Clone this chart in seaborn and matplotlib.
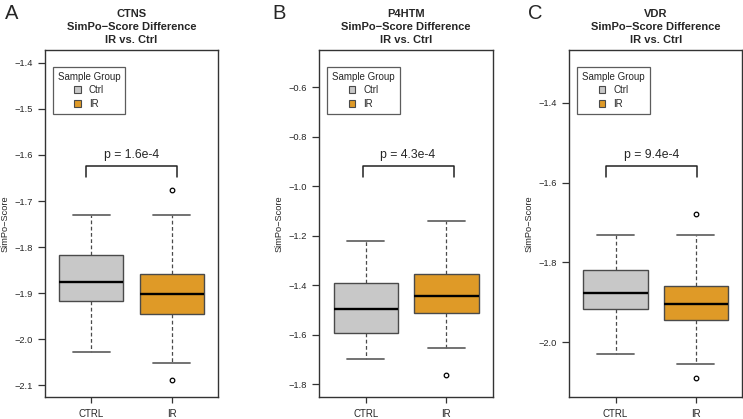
import numpy as np
import pandas as pd
import matplotlib
matplotlib.use("Agg")
import matplotlib.pyplot as plt
import seaborn as sns
from matplotlib.patches import Patch

# ---------------- data ----------------
genes = ["CTNS", "P4HTM", "VDR"]
panel_letters = ["A", "B", "C"]
groups = ["CTRL", "IR"]
legend_labels = ["Ctrl", "IR"]
p_labels = ["p = 1.6e-4", "p = 4.3e-4", "p = 9.4e-4"]

ctns_ctrl = [-2.028, -1.970, -1.917, -1.900, -1.876, -1.850, -1.817, -1.780, -1.730]
ctns_ir = [-2.088, -2.052, -1.945, -1.920, -1.902, -1.880, -1.858, -1.730, -1.677]
p4htm_ctrl = [-1.699, -1.650, -1.593, -1.550, -1.497, -1.440, -1.393, -1.300, -1.223]
p4htm_ir = [-1.764, -1.656, -1.514, -1.480, -1.445, -1.400, -1.353, -1.250, -1.139]
vdr_ctrl = [-2.029, -1.970, -1.9175, -1.900, -1.8775, -1.850, -1.819, -1.780, -1.730]
vdr_ir = [-2.089, -2.054, -1.945, -1.920, -1.904, -1.880, -1.858, -1.730, -1.6775]

ctrl_values = [ctns_ctrl, p4htm_ctrl, vdr_ctrl]
ir_values = [ctns_ir, p4htm_ir, vdr_ir]

y_ticks = [
    [-2.1, -2.0, -1.9, -1.8, -1.7, -1.6, -1.5, -1.4],
    [-1.8, -1.6, -1.4, -1.2, -1.0, -0.8, -0.6],
    [-2.0, -1.8, -1.6, -1.4],
]
y_limits = [(-2.125, -1.372), (-1.851, -0.449), (-2.136, -1.268)]
bracket_x = [(-0.06, 1.06), (-0.04, 1.09), (-0.12, 1.01)]
bracket_y = [(-1.647, -1.623), (-0.963, -0.918), (-1.586, -1.5585)]
p_text_y = [-1.600, -0.874, -1.532]

# ---------------- styling ----------------
colors = {"CTRL": "#C8C8C8", "IR": "#DF9A27"}
edge = "#4A4A4A"
cap_color = "#676767"

sns.set_style("white")
plt.rcParams["font.family"] = ["Liberation Sans", "DejaVu Sans"]

fig = plt.figure(figsize=(7.43, 4.19), dpi=100)
W, H = 743.0, 419.0
axes_px = [(44.7, 218.3), (319.0, 493.0), (569.0, 742.3)]
top_px, bottom_px = 50.0, 396.7
letter_x_px = [5, 272, 528]

for i in range(3):
    l, r = axes_px[i]
    ax = fig.add_axes([l / W, (H - bottom_px) / H, (r - l) / W, (bottom_px - top_px) / H])
    df = pd.DataFrame({
        "group": ["CTRL"] * len(ctrl_values[i]) + ["IR"] * len(ir_values[i]),
        "score": ctrl_values[i] + ir_values[i],
    })
    sns.boxplot(
        data=df, x="group", y="score", hue="group", order=groups, hue_order=groups,
        palette=colors, saturation=1, width=0.8, whis=1.5, legend=False, ax=ax,
        linewidth=1.0,
        boxprops=dict(edgecolor=edge, linewidth=1.0),
        whiskerprops=dict(color=edge, linestyle=(0, (3, 2)), linewidth=0.9),
        capprops=dict(color=cap_color, linewidth=1.3),
        medianprops=dict(color="black", linewidth=1.7),
        flierprops=dict(marker="o", markerfacecolor="none", markeredgecolor="black",
                        markersize=3.3, markeredgewidth=0.9),
    )
    # R-style caps: half of the box width
    for ln in list(ax.lines):
        xd = np.asarray(ln.get_xdata(), dtype=float)
        yd = np.asarray(ln.get_ydata(), dtype=float)
        if len(xd) == 2 and np.isclose(yd[0], yd[1]):
            span = abs(xd[1] - xd[0])
            if 0.05 < span < 0.6:
                c = xd.mean()
                ln.set_xdata([c - 0.23, c + 0.23])

    ax.set_xlim(-0.58, 1.58)
    ax.set_ylim(*y_limits[i])
    ax.set_yticks(y_ticks[i])
    ax.set_yticklabels([f"{t:.1f}".replace("-", "\u2212") for t in y_ticks[i]])
    ax.set_xticks([0, 1])
    ax.set_xticklabels(groups)
    ax.set_xlabel("")
    ax.set_ylabel("SimPo\u2212Score", fontsize=6.7)
    ax.yaxis.set_label_coords(-0.205, 0.5)
    ax.tick_params(axis="y", which="both", left=True, length=5, width=0.9,
                   color="#333333", labelsize=6.7, pad=3.5, direction="out")
    ax.tick_params(axis="x", which="both", bottom=True, length=4, width=0.9,
                   color="#333333", labelsize=7, pad=5, direction="out")
    for sp in ax.spines.values():
        sp.set_visible(True)
        sp.set_color("#333333")
        sp.set_linewidth(1.0)

    # title
    ax.set_title(f"{genes[i]}\nSimPo\u2212Score Difference\nIR vs. Ctrl",
                 fontsize=8, fontweight="bold", pad=5, linespacing=1.35)
    # panel letter
    fig.text(letter_x_px[i] / W, 1 - 4 / H, panel_letters[i], fontsize=14.5,
             ha="left", va="top")

    # significance bracket
    x0, x1 = bracket_x[i]
    yb, yt = bracket_y[i]
    ax.plot([x0, x0, x1, x1], [yb, yt, yt, yb], color="#222222", linewidth=1.1)
    ax.text((x0 + x1) / 2, p_text_y[i], p_labels[i], ha="center", va="center",
            fontsize=8.8)

    # legend
    handles = [Patch(facecolor=colors[g], edgecolor=edge, linewidth=0.8) for g in groups]
    leg = ax.legend(handles, legend_labels, title="Sample Group", loc="upper left",
                    bbox_to_anchor=(0.048, 0.951), borderaxespad=0, fontsize=7,
                    title_fontsize=7, frameon=True, fancybox=False,
                    handlelength=0.7, handleheight=0.7, handletextpad=0.8,
                    labelspacing=0.35, borderpad=0.5, alignment="center")
    leg.get_frame().set_edgecolor("#333333")
    leg.get_frame().set_linewidth(0.9)

fig.savefig("out.png", dpi=100)
